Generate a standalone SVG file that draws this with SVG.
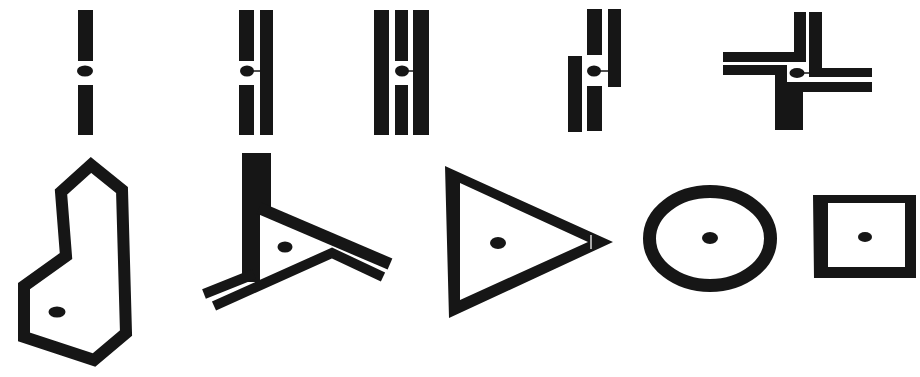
<svg xmlns="http://www.w3.org/2000/svg" width="920" height="377" viewBox="0 0 920 377">
<style>
.ink{fill:#161616}
.ln{fill:none;stroke:#161616;stroke-linejoin:miter;stroke-linecap:butt}
.th{stroke-width:1.5}
</style>
<rect width="920" height="377" fill="#ffffff"/>
<g id="sym1">
<rect class="ink" x="78" y="10" width="15" height="51"/>
<rect class="ink" x="78" y="85" width="15" height="50"/>
<ellipse class="ink" cx="85" cy="71" rx="8" ry="5.5"/>
</g>
<g id="sym2">
<rect class="ink" x="239" y="10" width="15" height="51"/>
<rect class="ink" x="239" y="85" width="15" height="50"/>
<rect class="ink" x="260" y="10" width="13" height="125"/>
<ellipse class="ink" cx="247" cy="71" rx="7" ry="5.5"/>
<line class="ln th" x1="250" y1="71" x2="261" y2="71"/>
</g>
<g id="sym3">
<rect class="ink" x="374" y="10" width="15" height="125"/>
<rect class="ink" x="395" y="10" width="13" height="51"/>
<rect class="ink" x="395" y="85" width="13" height="50"/>
<rect class="ink" x="413" y="10" width="16" height="125"/>
<ellipse class="ink" cx="402" cy="71" rx="7" ry="5.5"/>
<line class="ln th" x1="405" y1="71" x2="414" y2="71"/>
</g>
<g id="sym4">
<rect class="ink" x="568" y="56" width="14" height="76"/>
<rect class="ink" x="587" y="9" width="15" height="46"/>
<rect class="ink" x="587" y="86" width="15" height="45"/>
<rect class="ink" x="608" y="9" width="13" height="78"/>
<ellipse class="ink" cx="594" cy="71" rx="7" ry="5.5"/>
<line class="ln th" x1="598" y1="71" x2="609" y2="71"/>
</g>
<g id="sym5">
<rect class="ink" x="723" y="52" width="83" height="10"/>
<rect class="ink" x="794" y="12" width="12" height="50"/>
<rect class="ink" x="809" y="12" width="13" height="65"/>
<rect class="ink" x="809" y="68" width="63" height="9"/>
<rect class="ink" x="723" y="65" width="64" height="10"/>
<rect class="ink" x="775" y="65" width="12" height="65"/>
<rect class="ink" x="787" y="82" width="16" height="48"/>
<rect class="ink" x="787" y="82" width="85" height="10"/>
<ellipse class="ink" cx="797" cy="73" rx="7.5" ry="5"/>
<line class="ln th" x1="801" y1="73" x2="810" y2="73"/>
</g>
<g id="sym6">
<polygon class="ln" stroke-width="12" points="91,165 122,190 126,333 94,360 24,337 24,286 66,256 61,192"/>
<ellipse class="ink" cx="57" cy="312" rx="8.5" ry="5.5"/>
</g>
<g id="sym7">
<rect class="ink" x="242" y="153" width="29" height="55"/>
<rect class="ink" x="242" y="205" width="18" height="77"/>
<line class="ln" stroke-width="12" x1="259" y1="208" x2="390" y2="264"/>
<line class="ln" stroke-width="10" x1="204" y1="294" x2="254" y2="274"/>
<polyline class="ln" stroke-width="10" points="214,306 332,253 383,277"/>
<ellipse class="ink" cx="285" cy="247" rx="7.5" ry="5.5"/>
</g>
<g id="sym8">
<polygon class="ink" fill-rule="evenodd" points="445,166 613,242 449,318 445,166 460,183 460,300 588,242 460,183"/>
<line x1="591" y1="235" x2="591" y2="249" stroke="#d8d8d8" stroke-width="1.5"/>
<ellipse class="ink" cx="498" cy="243" rx="8" ry="6"/>
</g>
<g id="sym9">
<ellipse class="ln" stroke-width="13" cx="710" cy="238.5" rx="60.5" ry="47"/>
<ellipse class="ink" cx="710" cy="238" rx="8" ry="6"/>
</g>
<g id="sym10">
<path class="ink" fill-rule="evenodd" d="M813,195 H916 V278 H814 Z M828,203 V267 H905 V203 Z"/>
<ellipse class="ink" cx="865" cy="237" rx="7" ry="5"/>
</g>
</svg>
